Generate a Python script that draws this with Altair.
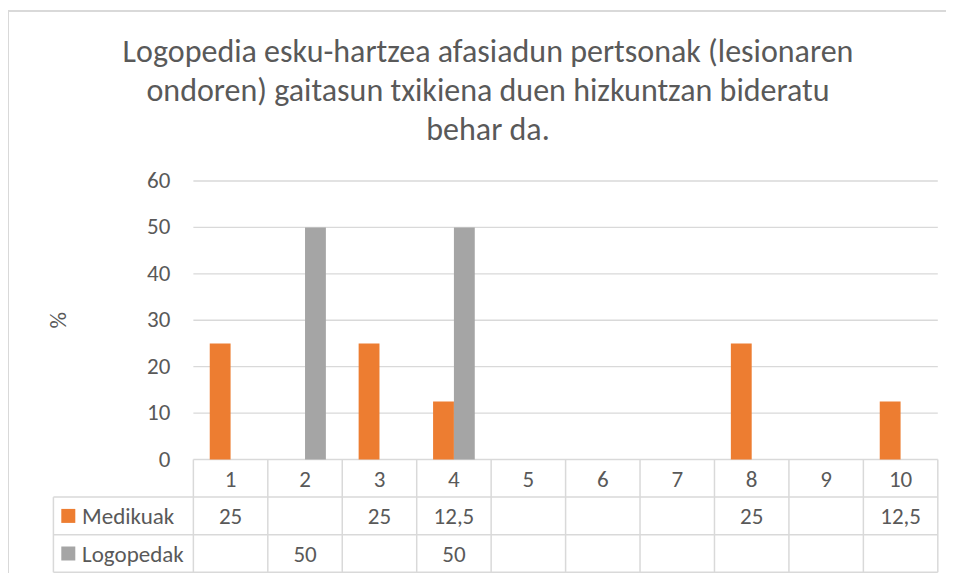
import altair as alt
import pandas as pd

# ---------------- data ----------------
categories = [1, 2, 3, 4, 5, 6, 7, 8, 9, 10]
medikuak = [25, None, 25, 12.5, None, None, None, 25, None, 12.5]
logopedak = [None, 50, None, 50, None, None, None, None, None, None]
series_names = ["Medikuak", "Logopedak"]
series_colors = ["#ED7D31", "#A5A5A5"]
y_ticks = [0, 10, 20, 30, 40, 50, 60]
title_lines = [
    "Logopedia esku-hartzea afasiadun pertsonak (lesionaren",
    "ondoren) gaitasun txikiena duen hizkuntzan bideratu",
    "behar da.",
]
y_title = "%"

# ---------------- layout constants ----------------
FONT = "Carlito, Liberation Sans Narrow, Open Sans, sans-serif"
TXT = "#595959"
GRID = "#d9d9d9"
FS = 23
W, H = 938, 562
X_MIN, X_MAX = -2.49, 10.11
Y_MIN, Y_MAX = -24.45, 96.62
ROW_H = 8.1
TABLE_LEFT = -1.88
BAR_W = 0.28

xs = alt.Scale(domain=[X_MIN, X_MAX], nice=False, zero=False)
ys = alt.Scale(domain=[Y_MIN, Y_MAX], nice=False, zero=False)
cs = alt.Scale(domain=series_names, range=series_colors)

# long table
rows = []
for si, (name, vals) in enumerate(zip(series_names, [medikuak, logopedak])):
    for c, v in zip(categories, vals):
        lab = "" if v is None else (str(v).replace(".", ",") if v % 1 else str(int(v)))
        rows.append({"cat": c, "series": name, "idx": si, "value": v, "label": lab})
df = pd.DataFrame(rows)
bars_df = df.dropna(subset=["value"]).copy()
bars_df["x1"] = bars_df["cat"] - 0.5 + (bars_df["idx"] - 1) * BAR_W
bars_df["x2"] = bars_df["x1"] + BAR_W

X = lambda f: alt.X(f, scale=xs, axis=None)
Y = lambda f: alt.Y(f, scale=ys, axis=None)

# gridlines
grid_df = pd.DataFrame({"v": y_ticks[1:], "a": 0, "b": 10})
grid = alt.Chart(grid_df).mark_rule(color=GRID, strokeWidth=1.3).encode(
    x=X("a:Q"), x2="b:Q", y=Y("v:Q"))

bars = alt.Chart(bars_df).mark_bar().encode(
    x=X("x1:Q"), x2="x2:Q", y=Y("value:Q"), y2=alt.datum(0),
    color=alt.Color("series:N", scale=cs, legend=None))

tick_df = pd.DataFrame({"v": y_ticks, "x": 0})
tick_labels = alt.Chart(tick_df).mark_text(
    align="right", baseline="middle", dx=-23, font=FONT, fontSize=FS, color=TXT
).encode(x=X("x:Q"), y=Y("v:Q"), text="v:Q")

ytitle = alt.Chart(pd.DataFrame({"t": [y_title], "x": [TABLE_LEFT + 0.07], "y": [30]})).mark_text(
    angle=270, align="center", baseline="middle", font=FONT, fontSize=FS, color=TXT
).encode(x=X("x:Q"), y=Y("y:Q"), text="t:N")

# table header
head_df = pd.DataFrame({"cat": categories})
head_df["x"] = head_df["cat"] - 0.5
head_df["y"] = -ROW_H / 2 - 0.3
header = alt.Chart(head_df).mark_text(
    align="center", baseline="middle", font=FONT, fontSize=FS, color=TXT
).encode(x=X("x:Q"), y=Y("y:Q"), text="cat:N")

val_df = df.copy()
val_df["x"] = val_df["cat"] - 0.5
val_df["y"] = -(val_df["idx"] + 1.5) * ROW_H - 0.3
values = alt.Chart(val_df).mark_text(
    align="center", baseline="middle", font=FONT, fontSize=FS, color=TXT
).encode(x=X("x:Q"), y=Y("y:Q"), text="label:N")

leg_df = pd.DataFrame({"series": series_names, "idx": [0, 1]})
leg_df["y"] = -(leg_df["idx"] + 1.5) * ROW_H
leg_df["yt"] = leg_df["y"] - 0.3
leg_df["xs"] = TABLE_LEFT + 0.2
leg_df["xt"] = TABLE_LEFT + 0.385
leg_sq = alt.Chart(leg_df).mark_square(size=196, opacity=1).encode(
    x=X("xs:Q"), y=Y("y:Q"), color=alt.Color("series:N", scale=cs, legend=None))
leg_txt = alt.Chart(leg_df).mark_text(
    align="left", baseline="middle", font=FONT, fontSize=FS, color=TXT
).encode(x=X("xt:Q"), y=Y("yt:Q"), text="series:N")

# table grid segments
segs = []
for c in range(0, 11):
    segs.append({"x": c, "x2": c, "y": -3 * ROW_H, "y2": 0})
segs.append({"x": TABLE_LEFT, "x2": TABLE_LEFT, "y": -3 * ROW_H, "y2": -ROW_H})
segs.append({"x": 0, "x2": 10, "y": 0, "y2": 0})
for r in range(1, 4):
    segs.append({"x": TABLE_LEFT, "x2": 10, "y": -r * ROW_H, "y2": -r * ROW_H})
seg_df = pd.DataFrame(segs)
table_grid = alt.Chart(seg_df).mark_rule(color=GRID, strokeWidth=1.5).encode(
    x=X("x:Q"), x2="x2:Q", y=Y("y:Q"), y2="y2:Q")

# chart-area border (left and top edges)
one = pd.DataFrame({"k": [0]})
border_left = alt.Chart(one).mark_rule(color=GRID, strokeWidth=2).encode(
    x=alt.value(0), y=alt.value(0), y2=alt.value(H + 3))
border_top = alt.Chart(one).mark_rule(color=GRID, strokeWidth=2).encode(
    y=alt.value(0), x=alt.value(0), x2=alt.value(W))

chart = alt.layer(
    grid, table_grid, bars, tick_labels, ytitle, header, values, leg_sq, leg_txt,
    border_left, border_top
).properties(
    width=W, height=H,
    autosize=alt.AutoSizeParams(type="none"),
    padding={"left": 0, "top": 3, "right": 0, "bottom": 0},
    title=alt.TitleParams(
        text=title_lines, font=FONT, fontSize=32, fontWeight="normal", color=TXT,
        anchor="middle", baseline="bottom", offset=-169, lineHeight=39, dx=11),
).configure_view(stroke=None).configure(background="white")

chart.save("out.html", embed_options={"renderer": "svg", "actions": False})
